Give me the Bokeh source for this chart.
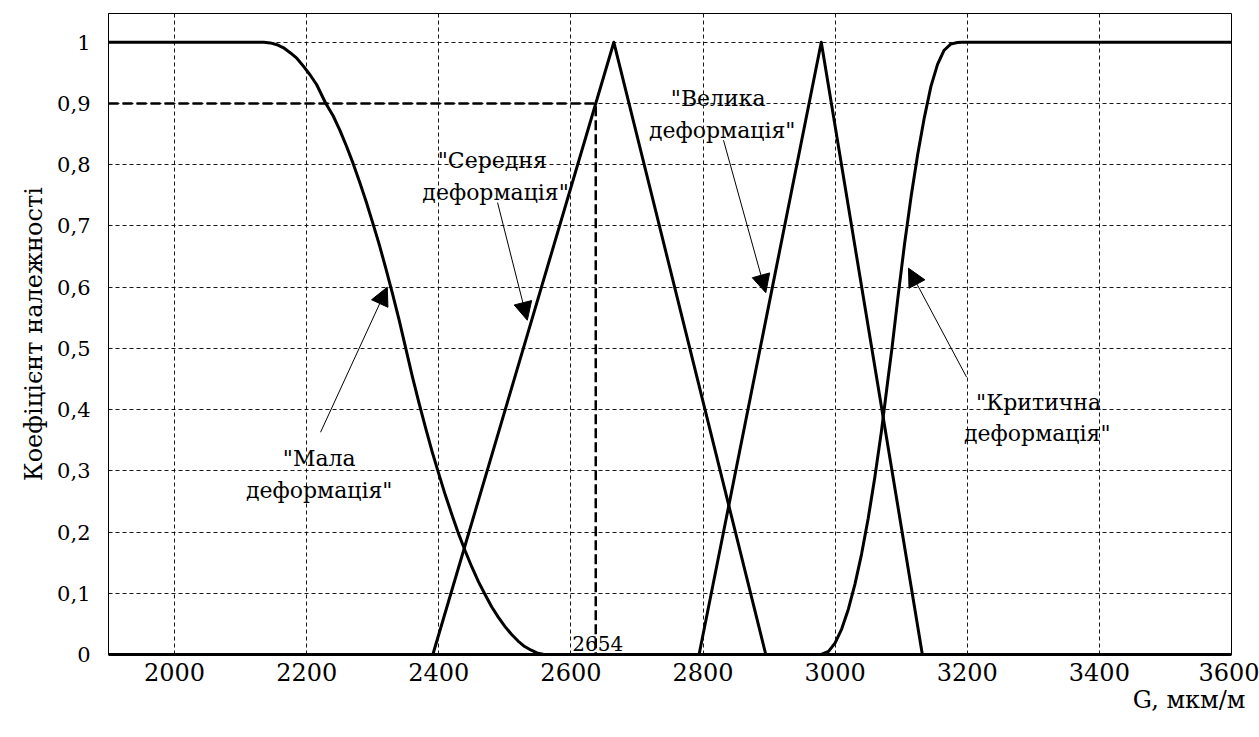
import numpy as np
from bokeh.plotting import figure
from bokeh.models import (Range1d, FixedTicker, CustomJSTickFormatter,
                          Arrow, NormalHead, Label, Title)
from bokeh.embed import file_html
from bokeh.resources import INLINE

# ---- data ----
mala_x = [1900, 2135, 2145, 2155, 2165, 2175, 2185, 2195, 2205, 2215, 2229, 2240, 2250, 2260,
          2270, 2280, 2290, 2300, 2310, 2320, 2330, 2340, 2350, 2360, 2370, 2380, 2390, 2400,
          2410, 2420, 2430, 2440, 2450, 2460, 2470, 2480, 2490, 2500, 2510, 2520, 2530, 2540,
          2550, 2558, 2565, 3600]
mala_y = [1, 1, 0.999, 0.996, 0.991, 0.983, 0.974, 0.961, 0.947, 0.931, 0.9, 0.88, 0.857, 0.831,
          0.803, 0.772, 0.74, 0.705, 0.669, 0.63, 0.589, 0.546, 0.5, 0.454, 0.411, 0.37, 0.331,
          0.295, 0.26, 0.228, 0.197, 0.169, 0.143, 0.119, 0.098, 0.078, 0.061, 0.046, 0.033,
          0.022, 0.013, 0.007, 0.002, 0.0005, 0, 0]

seredn_x = [1900, 2391, 2665, 2895, 3600]
seredn_y = [0, 0, 1, 0, 0]

velyka_x = [1900, 2794, 2979, 3132, 3600]
velyka_y = [0, 0, 1, 0, 0]

kryt_x = [1900, 2979, 2990, 3000, 3010, 3020, 3030, 3040, 3050, 3060, 3070, 3080, 3086, 3095,
          3105, 3115, 3125, 3135, 3145, 3155, 3165, 3175, 3185, 3192, 3600]
kryt_y = [0, 0, 0.005, 0.019, 0.042, 0.074, 0.115, 0.164, 0.222, 0.289, 0.364, 0.45, 0.5, 0.583,
          0.67, 0.748, 0.817, 0.877, 0.928, 0.964, 0.987, 0.997, 0.9995, 1, 1]

threshold = 0.9
cut_label = "2654"

x_ticks = [2000, 2200, 2400, 2600, 2800, 3000, 3200, 3400, 3600]
y_ticks = [0, 0.1, 0.2, 0.3, 0.4, 0.5, 0.6, 0.7, 0.8, 0.9, 1]

# annotation texts (two lines each) and arrows
ann_lines = ['"Мала', 'деформація"',
             '"Середня', 'деформація"',
             '"Велика', 'деформація"',
             '"Критична', 'деформація"']
ann_x = [2219, 2219, 2481, 2486, 2823, 2829, 3308, 3306]
ann_y = [0.320, 0.268, 0.807, 0.755, 0.908, 0.856, 0.412, 0.361]

arr_x0 = [2221, 2489, 2831, 3199]
arr_y0 = [0.363, 0.738, 0.840, 0.453]
arr_x1 = [2322, 2534, 2895, 3111]
arr_y1 = [0.600, 0.546, 0.591, 0.631]

FONT = "DejaVu Serif"

p = figure(width=1259, height=737, output_backend="svg", toolbar_location=None,
           x_range=Range1d(1900, 3600), y_range=Range1d(0, 1.047))
p.min_border_left = 108
p.min_border_right = 28
p.min_border_top = 13
p.min_border_bottom = 83
p.background_fill_color = "white"
p.border_fill_color = "white"
p.outline_line_color = "black"
p.outline_line_width = 1

# axes
p.xaxis.ticker = FixedTicker(ticks=x_ticks)
p.yaxis.ticker = FixedTicker(ticks=y_ticks)
p.yaxis.formatter = CustomJSTickFormatter(code="""
    if (Math.abs(tick - Math.round(tick)) < 1e-9) return Math.round(tick).toString();
    return tick.toFixed(1).replace('.', ',');
""")
for ax in (p.xaxis[0], p.yaxis[0]):
    ax.major_tick_in = 0
    ax.major_tick_out = 0
    ax.minor_tick_in = 0
    ax.minor_tick_out = 0
    ax.major_label_text_color = "black"
    ax.major_label_text_font = FONT
p.xaxis.major_label_text_font_size = "24px"
p.xaxis.major_label_standoff = 8
p.xaxis.axis_line_width = 3
p.xaxis.axis_line_color = "black"
p.yaxis.axis_line_color = "black"
p.yaxis.axis_line_width = 1
p.yaxis.major_label_text_font_size = "21px"
p.yaxis.major_label_standoff = 18

# grid
for g in (p.xgrid[0], p.ygrid[0]):
    g.grid_line_color = "black"
    g.grid_line_dash = "4 3"
    g.grid_line_width = 1
    g.grid_line_alpha = 0.9

# membership curves
for xs, ys in ((mala_x, mala_y), (seredn_x, seredn_y), (velyka_x, velyka_y), (kryt_x, kryt_y)):
    p.line(xs, ys, line_color="black", line_width=3, line_join="round")

# threshold dashed line to intersection with rising "Середня"
cut_x = float(np.interp(threshold, seredn_y[1:3], seredn_x[1:3]))
p.line([1900, cut_x, cut_x], [threshold, threshold, 0], line_color="black",
       line_width=2.5, line_dash="10 4")

# annotation texts
for tx, x, y in zip(ann_lines, ann_x, ann_y):
    p.add_layout(Label(x=x, y=y, text=tx, text_font=FONT, text_font_size="22px",
                       text_align="center", text_baseline="alphabetic", text_color="black"))

p.add_layout(Label(x=2602, y=0.018, text=cut_label, text_font=FONT, text_font_size="20px",
                   text_align="left", text_baseline="alphabetic", text_color="black"))

for x0, y0, x1, y1 in zip(arr_x0, arr_y0, arr_x1, arr_y1):
    p.add_layout(Arrow(end=NormalHead(size=18, fill_color="black", line_color="black", line_width=1),
                       x_start=x0, y_start=y0, x_end=x1, y_end=y1,
                       line_color="black", line_width=1))

# axis titles
p.add_layout(Title(text="Коефіцієнт належності", align="center", text_font=FONT,
                   text_font_size="24px", text_font_style="normal", text_color="black",
                   standoff=14), "left")
p.add_layout(Title(text="G, мкм/м", align="right", offset=-14, text_font=FONT,
                   text_font_size="24px", text_font_style="normal", text_color="black",
                   standoff=0), "below")

open("out.html", "w").write(file_html(p, INLINE))
